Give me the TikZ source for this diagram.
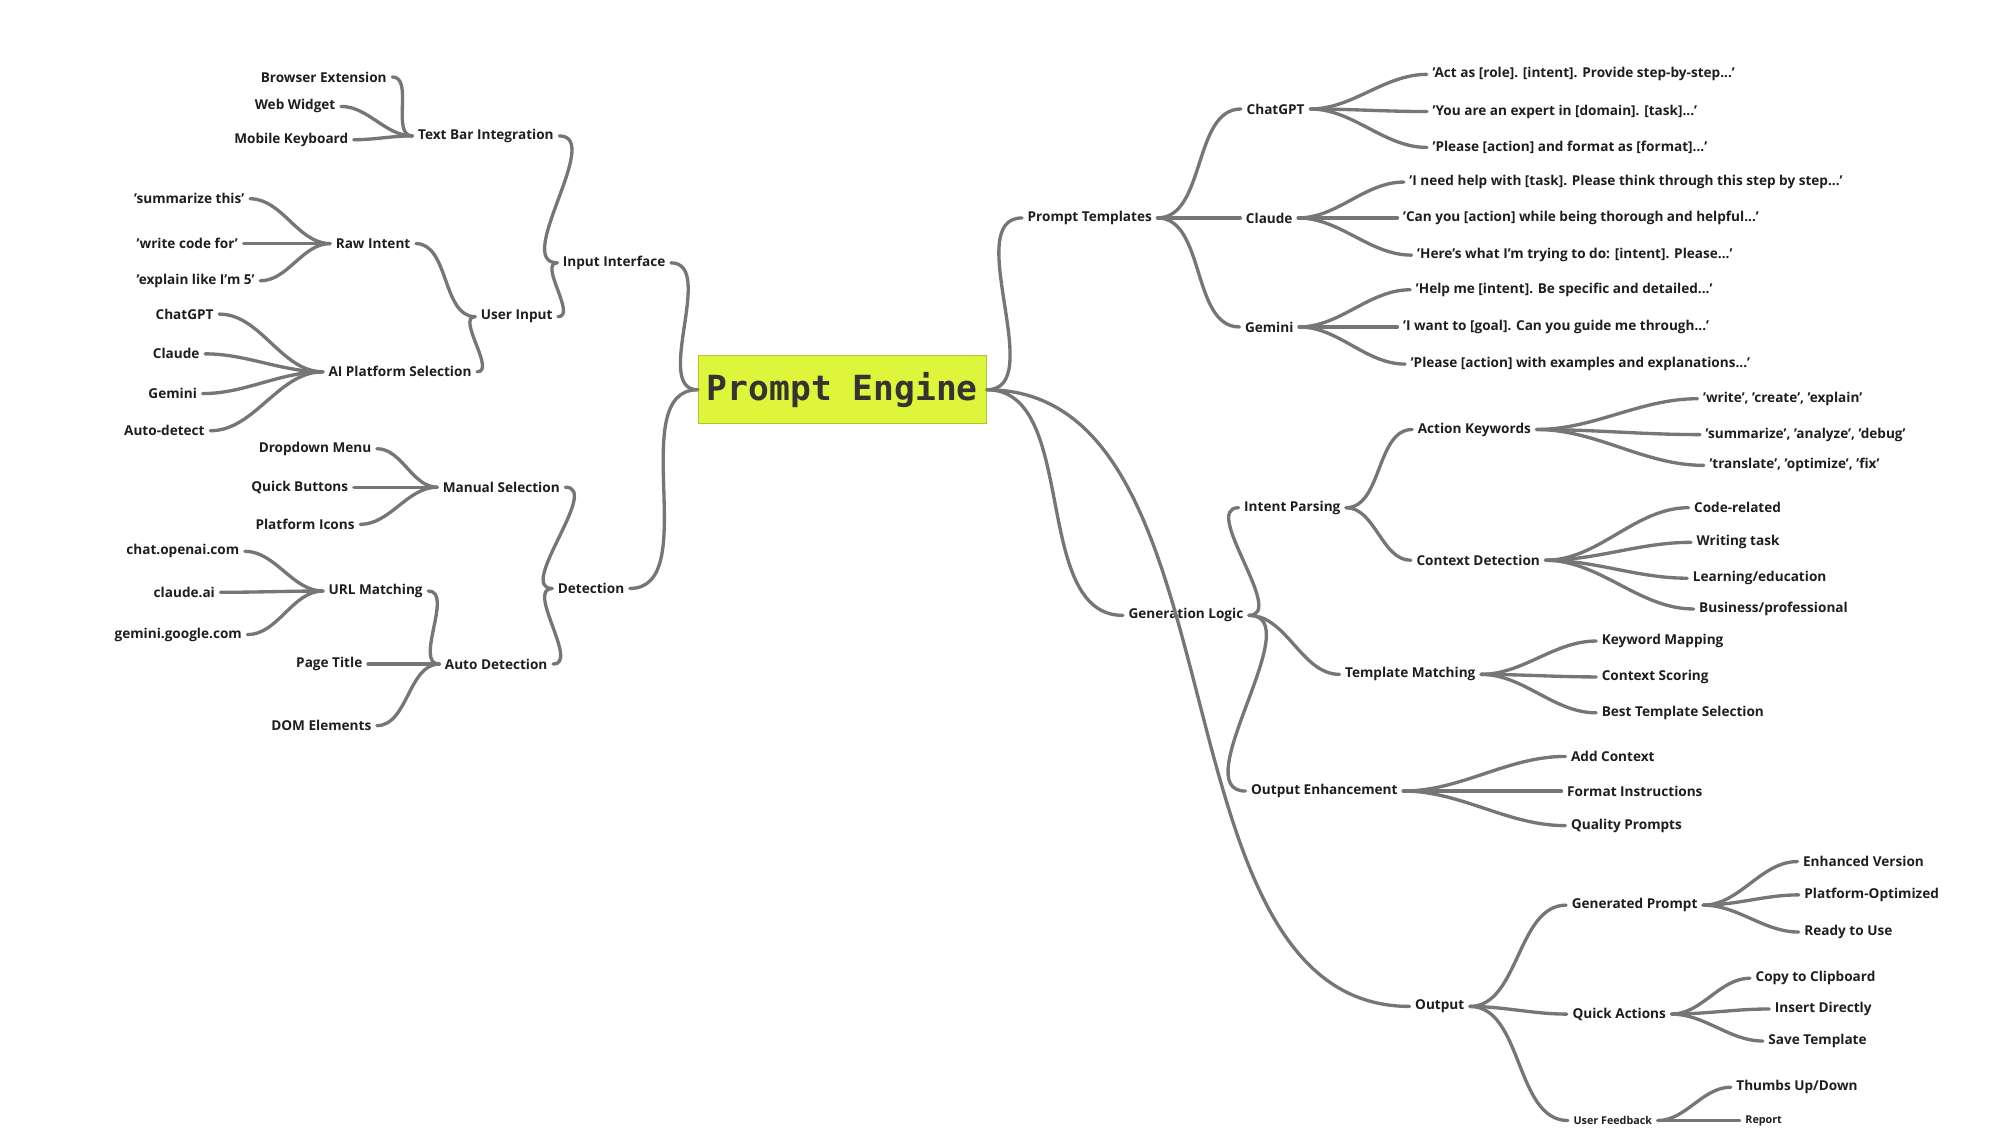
\documentclass[tikz,border=0pt]{standalone}
\usepackage{fontspec}
\setmainfont{Open Sans}
\newfontfamily\titlefont{DejaVu Sans Mono}
\definecolor{lime}{RGB}{221,245,58}
\definecolor{edge}{RGB}{118,118,118}
\definecolor{txt}{RGB}{30,30,30}
\begin{document}
\begin{tikzpicture}[x=0.5pt,y=-0.5pt,
  lab/.style={inner sep=2pt,font=\fontsize{5.3}{6}\selectfont\bfseries,text=txt},
  sml/.style={inner sep=2pt,font=\fontsize{4.2}{5}\selectfont\bfseries,text=txt},
  lk/.style={draw=edge,line width=1.3pt,line cap=round},
  R/.style={lk,out=0,in=180,looseness=0.9},
  L/.style={lk,out=180,in=0,looseness=0.9}]
\useasboundingbox (0,0) rectangle (1560,895);
\node[fill=lime,draw=lime!80!black,line width=0.3pt,minimum width=112.5pt,minimum height=26.5pt,inner sep=0pt,
  font=\titlefont\bfseries\fontsize{13.5}{15}\selectfont,text=black!80] (pe) at (657,304) {Prompt Engine};
% right
\node[lab] (pt) at (850,170) {Prompt Templates};
\node[lab] (cg) at (995,85) {ChatGPT};
\node[lab,anchor=west] (cg1) at (1113,58) {'Act as [role]. [intent]. Provide step-by-step...'};
\node[lab,anchor=west] (cg2) at (1113,87) {'You are an expert in [domain]. [task]...'};
\node[lab,anchor=west] (cg3) at (1113,115) {'Please [action] and format as [format]...'};
\node[lab] (cl) at (990,170) {Claude};
\node[lab,anchor=west] (cl1) at (1095,142) {'I need help with [task]. Please think through this step by step...'};
\node[lab,anchor=west] (cl2) at (1090,170) {'Can you [action] while being thorough and helpful...'};
\node[lab,anchor=west] (cl3) at (1101,199) {'Here's what I'm trying to do: [intent]. Please...'};
\node[lab] (gm) at (990,255) {Gemini};
\node[lab,anchor=west] (gm1) at (1100,226) {'Help me [intent]. Be specific and detailed...'};
\node[lab,anchor=west] (gm2) at (1090,255) {'I want to [goal]. Can you guide me through...'};
\node[lab,anchor=west] (gm3) at (1096,284) {'Please [action] with examples and explanations...'};
\node[lab] (gl) at (925,480) {Generation Logic};
\node[lab] (ip) at (1008,396) {Intent Parsing};
\node[lab] (ak) at (1150,335) {Action Keywords};
\node[lab,anchor=west] (ak1) at (1324,311) {'write', 'create', 'explain'};
\node[lab,anchor=west] (ak2) at (1326,339) {'summarize', 'analyze', 'debug'};
\node[lab,anchor=west] (ak3) at (1329,363) {'translate', 'optimize', 'fix'};
\node[lab] (cd) at (1153,437) {Context Detection};
\node[lab,anchor=west] (cd1) at (1317,396) {Code-related};
\node[lab,anchor=west] (cd2) at (1319,423) {Writing task};
\node[lab,anchor=west] (cd3) at (1316,451) {Learning/education};
\node[lab,anchor=west] (cd4) at (1321,475) {Business/professional};
\node[lab] (tm) at (1100,526) {Template Matching};
\node[lab,anchor=west] (tm1) at (1245,500) {Keyword Mapping};
\node[lab,anchor=west] (tm2) at (1245,528) {Context Scoring};
\node[lab,anchor=west] (tm3) at (1245,556) {Best Template Selection};
\node[lab] (oe) at (1033,617) {Output Enhancement};
\node[lab,anchor=west] (oe1) at (1221,590) {Add Context};
\node[lab,anchor=west] (oe2) at (1218,617) {Format Instructions};
\node[lab,anchor=west] (oe3) at (1221,644) {Quality Prompts};
\node[lab] (op) at (1123,785) {Output};
\node[lab] (gp) at (1275,706) {Generated Prompt};
\node[lab,anchor=west] (gp1) at (1402,672) {Enhanced Version};
\node[lab,anchor=west] (gp2) at (1403,698) {Platform-Optimized};
\node[lab,anchor=west] (gp3) at (1403,727) {Ready to Use};
\node[lab] (qa) at (1263,791) {Quick Actions};
\node[lab,anchor=west] (qa1) at (1365,763) {Copy to Clipboard};
\node[lab,anchor=west] (qa2) at (1380,787) {Insert Directly};
\node[lab,anchor=west] (qa3) at (1375,812) {Save Template};
\node[sml] (uf) at (1258,874) {User Feedback};
\node[lab,anchor=west] (uf1) at (1350,848) {Thumbs Up/Down};
\node[sml,anchor=west] (uf2) at (1357,874) {Report};
% left
\node[lab] (ii) at (479,205) {Input Interface};
\node[lab] (tb) at (379,106) {Text Bar Integration};
\node[lab,anchor=east] (tb1) at (306,60) {Browser Extension};
\node[lab,anchor=east] (tb2) at (266,83) {Web Widget};
\node[lab,anchor=east] (tb3) at (276,109) {Mobile Keyboard};
\node[lab] (ui) at (403,247) {User Input};
\node[lab] (ri) at (291,190) {Raw Intent};
\node[lab,anchor=east] (ri1) at (195,155) {'summarize this'};
\node[lab,anchor=east] (ri2) at (190,190) {'write code for'};
\node[lab,anchor=east] (ri3) at (203,219) {'explain like I'm 5'};
\node[lab] (ap) at (312,290) {AI Platform Selection};
\node[lab,anchor=east] (ap1) at (171,245) {ChatGPT};
\node[lab,anchor=east] (ap2) at (160,276) {Claude};
\node[lab,anchor=east] (ap3) at (158,307) {Gemini};
\node[lab,anchor=east] (ap4) at (164,336) {Auto-detect};
\node[lab] (de) at (461,459) {Detection};
\node[lab] (ms) at (391,380) {Manual Selection};
\node[lab,anchor=east] (ms1) at (294,350) {Dropdown Menu};
\node[lab,anchor=east] (ms2) at (276,380) {Quick Buttons};
\node[lab,anchor=east] (ms3) at (281,409) {Platform Icons};
\node[lab] (ad) at (387,518) {Auto Detection};
\node[lab] (um) at (293,461) {URL Matching};
\node[lab,anchor=east] (um1) at (191,430) {chat.openai.com};
\node[lab,anchor=east] (um2) at (172,462) {claude.ai};
\node[lab,anchor=east] (um3) at (193,495) {gemini.google.com};
\node[lab,anchor=east] (ad2) at (287,518) {Page Title};
\node[lab,anchor=east] (ad3) at (294,566) {DOM Elements};
% right edges
\foreach \p/\c in {pe/pt,pe/gl,pe/op,pt/cg,pt/cl,pt/gm,cg/cg1,cg/cg2,cg/cg3,cl/cl1,cl/cl2,cl/cl3,gm/gm1,gm/gm2,gm/gm3,
  gl/ip,gl/tm,gl/oe,ip/ak,ip/cd,ak/ak1,ak/ak2,ak/ak3,cd/cd1,cd/cd2,cd/cd3,cd/cd4,tm/tm1,tm/tm2,tm/tm3,oe/oe1,oe/oe2,oe/oe3,
  op/gp,op/qa,op/uf,gp/gp1,gp/gp2,gp/gp3,qa/qa1,qa/qa2,qa/qa3,uf/uf1,uf/uf2}
  \draw[R] (\p.east) to (\c.west);
% left edges
\foreach \p/\c in {pe/ii,pe/de,ii/tb,ii/ui,tb/tb1,tb/tb2,tb/tb3,ui/ri,ui/ap,ri/ri1,ri/ri2,ri/ri3,ap/ap1,ap/ap2,ap/ap3,ap/ap4,
  de/ms,de/ad,ms/ms1,ms/ms2,ms/ms3,ad/um,ad/ad2,ad/ad3,um/um1,um/um2,um/um3}
  \draw[L] (\p.west) to (\c.east);
\end{tikzpicture}
\end{document}
